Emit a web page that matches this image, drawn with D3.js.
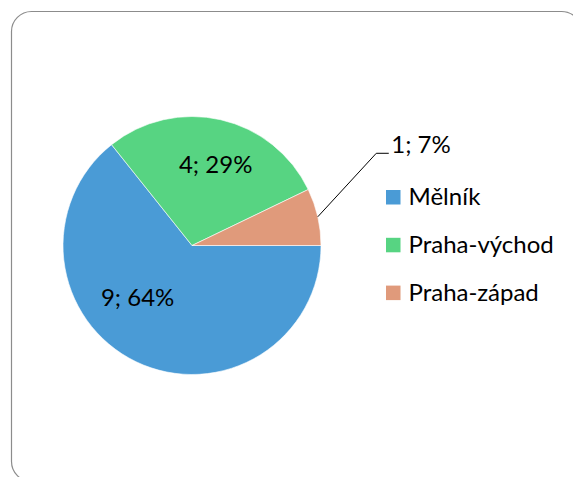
<!DOCTYPE html>
<html>
<head>
<meta charset="utf-8">
<script src="https://cdn.jsdelivr.net/npm/d3@7"></script>
<style>
  html, body { margin: 0; padding: 0; background: #fff; }
  svg { display: block; font-family: Lato, "Noto Sans", sans-serif; }
</style>
</head>
<body>
<div id="chart"></div>
<script>
// data
const categories = ['Mělník', 'Praha-východ', 'Praha-západ'];
const values = [9, 4, 1];
const colors = ['#4A9BD6', '#57D482', '#E09A7B'];

const W = 573, H = 477;
const svg = d3.select('#chart').append('svg')
  .attr('width', W)
  .attr('height', H);

// chart area frame
svg.append('rect')
  .attr('x', 11.5).attr('y', 11.5)
  .attr('width', 570).attr('height', 470)
  .attr('rx', 20).attr('ry', 20)
  .attr('fill', '#fff')
  .attr('stroke', '#8c8c8c')
  .attr('stroke-width', 1.2);

const cx = 192, cy = 245.5, R = 129;
const total = d3.sum(values);

const pie = d3.pie()
  .sort(null)
  .startAngle(Math.PI / 2)
  .endAngle(Math.PI / 2 + 2 * Math.PI)
  .value(function(d) { return d; });
const arcs = pie(values);

const arc = d3.arc().innerRadius(0).outerRadius(R);
const labelArc = d3.arc().innerRadius(R * 0.65).outerRadius(R * 0.65);

const g = svg.append('g').attr('transform', `translate(${cx},${cy})`);

g.selectAll('path.slice')
  .data(arcs)
  .enter()
  .append('path')
  .attr('class', 'slice')
  .attr('d', arc)
  .attr('fill', function(d, i) { return colors[i]; })
  .attr('stroke', '#fff')
  .attr('stroke-width', 0.6);

var labelText = function(d) {
  return d.data + '; ' + Math.round(d.data / total * 100) + '%';
};

// inside labels (Excel "best fit" nudges)
const nudge = [[-18, -23], [5, 1]];
[0, 1].forEach(function(i) {
  var c = labelArc.centroid(arcs[i]);
  g.append('text')
    .attr('x', c[0] + nudge[i][0])
    .attr('y', c[1] + nudge[i][1])
    .attr('dy', '0.35em')
    .attr('text-anchor', 'middle')
    .attr('font-size', 24)
    .attr('fill', '#000')
    .text(labelText(arcs[i]));
});

// outside label with leader line for the small slice
const small = arcs[2];
const mid = (small.startAngle + small.endAngle) / 2;
const p0 = [R * Math.sin(mid), -R * Math.cos(mid)];
const p1 = [p0[0] + 58.5, p0[1] - 63.5];
const p2 = [p1[0] + 12.5, p1[1]];
g.append('polyline')
  .attr('points', [p0, p1, p2].map(function(p) { return p.join(','); }).join(' '))
  .attr('fill', 'none')
  .attr('stroke', '#000')
  .attr('stroke-width', 1);
g.append('text')
  .attr('x', p2[0] + 2.5)
  .attr('y', p2[1])
  .attr('font-size', 24)
  .attr('fill', '#000')
  .text(labelText(small));

// legend
const legend = svg.append('g').attr('transform', 'translate(386,190)');
const item = legend.selectAll('g.item')
  .data(categories)
  .enter()
  .append('g')
  .attr('class', 'item')
  .attr('transform', function(d, i) { return `translate(0,${i * 47.8})`; });
item.append('rect')
  .attr('width', 14.5).attr('height', 14.5)
  .attr('fill', function(d, i) { return colors[i]; });
item.append('text')
  .attr('x', 22.5)
  .attr('y', 15)
  .attr('font-size', 24)
  .attr('fill', '#000')
  .text(function(d) { return d; });
</script>
</body>
</html>
